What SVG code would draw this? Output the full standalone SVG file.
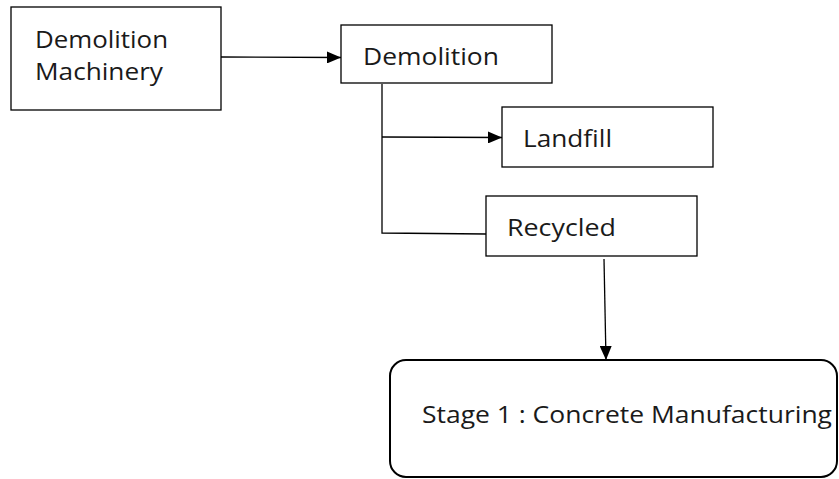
<svg xmlns="http://www.w3.org/2000/svg" width="839" height="479" viewBox="0 0 839 479">
<defs>
<marker id="ah" viewBox="0 0 14 12" refX="14" refY="6" markerWidth="14" markerHeight="12" markerUnits="userSpaceOnUse" orient="auto">
<path d="M0,0 L14,6 L0,12 Z" fill="#000"/>
</marker>
<style>
.box{fill:#fff;stroke:#000;stroke-width:1.3}
.lbl{font-family:"Open Sans","Liberation Sans",sans-serif;font-size:23px;fill:#1a1a1a}
.con{fill:none;stroke:#000;stroke-width:1.3}
</style>
</defs>
<rect width="839" height="479" fill="#fff"/>
<g id="connectors">
<line class="con" x1="221" y1="57" x2="341" y2="57.5" marker-end="url(#ah)"/>
<polyline class="con" points="382,84 382,233 486,234"/>
<line class="con" x1="382" y1="137" x2="502" y2="137.5" marker-end="url(#ah)"/>
<line class="con" x1="604" y1="259" x2="606" y2="360" marker-end="url(#ah)"/>
</g>
<g id="n-machinery">
<rect class="box" x="11" y="7" width="210" height="103"/>
<text class="lbl" x="35" y="48" textLength="133" lengthAdjust="spacingAndGlyphs">Demolition</text>
<text class="lbl" x="35" y="80" textLength="128" lengthAdjust="spacingAndGlyphs">Machinery</text>
</g>
<g id="n-demolition">
<rect class="box" x="341" y="25" width="211" height="58"/>
<text class="lbl" x="363" y="65" textLength="136" lengthAdjust="spacingAndGlyphs">Demolition</text>
</g>
<g id="n-landfill">
<rect class="box" x="502" y="107" width="211" height="60"/>
<text class="lbl" x="523" y="147" textLength="89" lengthAdjust="spacingAndGlyphs">Landfill</text>
</g>
<g id="n-recycled">
<rect class="box" x="486" y="196" width="211" height="60"/>
<text class="lbl" x="507" y="236" textLength="109" lengthAdjust="spacingAndGlyphs">Recycled</text>
</g>
<g id="n-stage1">
<rect class="box" x="390" y="360" width="447" height="117" rx="16" ry="16" style="stroke-width:2"/>
<text class="lbl" x="422" y="423" textLength="410" lengthAdjust="spacingAndGlyphs">Stage 1 : Concrete Manufacturing</text>
</g>
</svg>
